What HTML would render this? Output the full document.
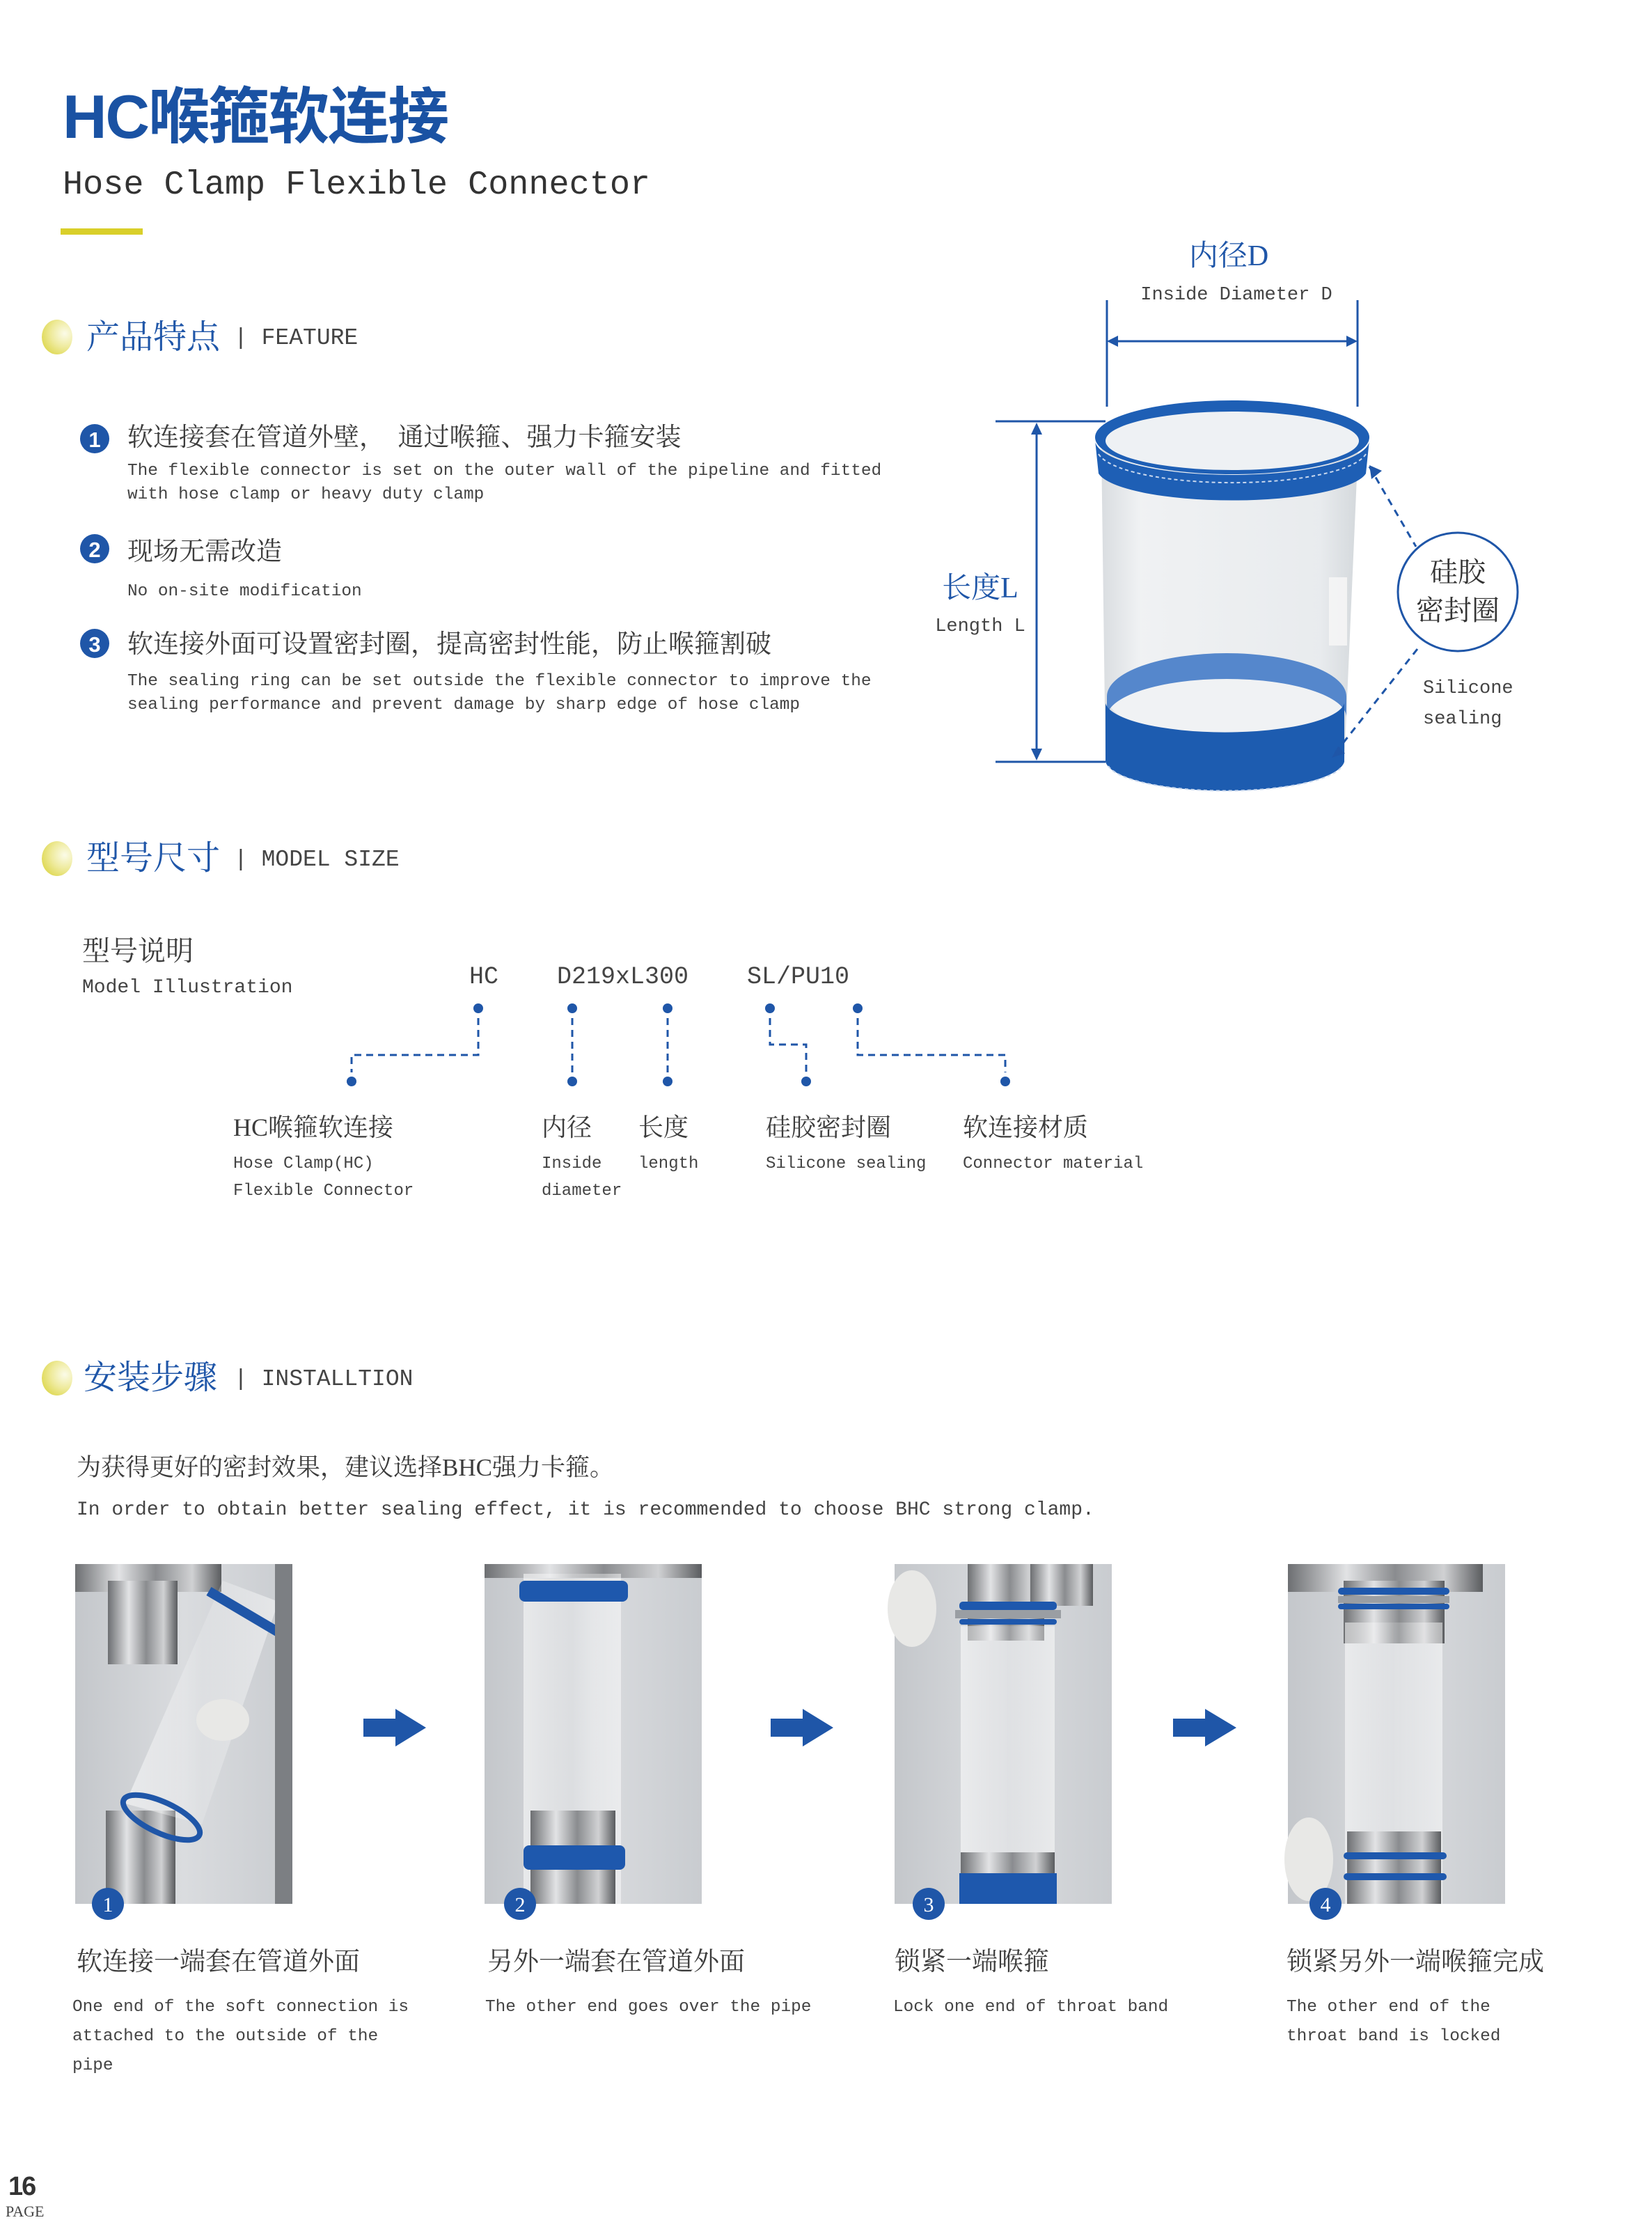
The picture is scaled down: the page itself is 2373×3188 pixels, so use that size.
<!DOCTYPE html>
<html><head><meta charset="utf-8">
<style>
html,body{margin:0;padding:0;background:#fff;}
body{width:2373px;height:3187px;position:relative;overflow:hidden;font-family:"Liberation Mono","Noto Serif CJK SC",monospace;color:#3c3c3c;}
.a{position:absolute;white-space:nowrap;}
.cj{font-family:"Liberation Serif","Noto Serif CJK SC",serif;}
.m{font-family:"Liberation Mono","Noto Serif CJK SC",monospace;}
.blue{color:#1f56a8;}
</style></head><body>

<!-- Title -->
<div class="a" style="left:90px;top:113px;font-family:'Liberation Sans','Noto Sans CJK SC',sans-serif;font-weight:bold;font-size:88px;line-height:110px;color:#1a52a3;letter-spacing:-2px;">HC喉箍软连接</div>
<div class="a m" style="left:90px;top:236px;font-size:48.5px;line-height:60px;color:#333;">Hose Clamp Flexible Connector</div>
<div class="a" style="left:87px;top:328px;width:118px;height:9px;background:#d9cf2a;"></div>

<!-- Feature header -->
<div class="a" style="left:60px;top:459px;width:44px;height:50px;border-radius:50%;background:radial-gradient(circle at 75% 40%,#fbfbe8 0%,#eeea9a 45%,#d6cf2c 100%);"></div>
<div class="a cj blue" style="left:124px;top:457px;font-size:48px;line-height:56px;">产品特点</div>
<div class="a m" style="left:336px;top:461px;font-size:33px;line-height:50px;color:#444;">| FEATURE</div>

<!-- Feature items -->
<svg class="a" style="left:0;top:0" width="400" height="1000">
<circle cx="136" cy="630" r="21" fill="#1f56a8"/><text x="136" y="642" font-family="Liberation Sans" font-weight="bold" font-size="31" fill="#fff" text-anchor="middle">1</text>
<circle cx="136" cy="788" r="21" fill="#1f56a8"/><text x="136" y="800" font-family="Liberation Sans" font-weight="bold" font-size="31" fill="#fff" text-anchor="middle">2</text>
<circle cx="136" cy="924" r="21" fill="#1f56a8"/><text x="136" y="936" font-family="Liberation Sans" font-weight="bold" font-size="31" fill="#fff" text-anchor="middle">3</text>
</svg>
<div class="a cj" style="left:183px;top:606px;font-size:37px;line-height:46px;">软连接套在管道外壁，&nbsp;&nbsp;通过喉箍、强力卡箍安装</div>
<div class="a m" style="left:183px;top:660px;font-size:24.4px;line-height:34px;color:#444;">The flexible connector is set on the outer wall of the pipeline and fitted<br>with hose clamp or heavy duty clamp</div>
<div class="a cj" style="left:183px;top:770px;font-size:37px;line-height:46px;">现场无需改造</div>
<div class="a m" style="left:183px;top:833px;font-size:24.4px;line-height:34px;color:#444;">No on-site modification</div>
<div class="a cj" style="left:183px;top:903px;font-size:37px;line-height:46px;">软连接外面可设置密封圈，提高密封性能，防止喉箍割破</div>
<div class="a m" style="left:183px;top:962px;font-size:24.4px;line-height:34px;color:#444;">The sealing ring can be set outside the flexible connector to improve the<br>sealing performance and prevent damage by sharp edge of hose clamp</div>

<!-- Right diagram -->
<div class="a cj blue" style="left:1665px;top:343px;width:200px;text-align:center;font-size:42px;line-height:50px;">内径D</div>
<div class="a m" style="left:1626px;top:406px;width:300px;text-align:center;font-size:27px;line-height:36px;color:#444;">Inside Diameter D</div>
<div class="a cj blue" style="left:1308px;top:819px;width:200px;text-align:center;font-size:42px;line-height:52px;">长度L</div>
<div class="a m" style="left:1308px;top:882px;width:200px;text-align:center;font-size:27px;line-height:36px;color:#444;">Length L</div>
<div class="a m" style="left:2044px;top:967px;font-size:27px;line-height:44px;color:#444;">Silicone<br>sealing</div>

<svg class="a" style="left:1400px;top:400px" width="800" height="760" viewBox="1400 400 800 760">
<defs>
<linearGradient id="body" x1="0" x2="1"><stop offset="0" stop-color="#d5d9dd"/><stop offset="0.15" stop-color="#eef0f2"/><stop offset="0.85" stop-color="#e6e9ec"/><stop offset="1" stop-color="#cfd4d8"/></linearGradient>
</defs>
<g stroke="#1f56a8" stroke-width="3" fill="#1f56a8">
<line x1="1590" y1="431" x2="1590" y2="584"/>
<line x1="1950" y1="431" x2="1950" y2="584"/>
<line x1="1600" y1="490" x2="1940" y2="490"/>
<line x1="1430" y1="605" x2="1588" y2="605"/>
<line x1="1430" y1="1094" x2="1588" y2="1094"/>
<line x1="1489" y1="615" x2="1489" y2="1085"/>
</g>
<polygon points="1590,490 1606,482 1606,498" fill="#1f56a8"/>
<polygon points="1950,490 1934,482 1934,498" fill="#1f56a8"/>
<polygon points="1489,607 1481,624 1497,624" fill="#1f56a8"/>
<polygon points="1489,1092 1481,1075 1497,1075" fill="#1f56a8"/>
<!-- cylinder body -->
<path d="M1582,640 L1588,1094 A172,45 0 0 0 1931,1094 L1951,640 Z" fill="url(#body)" opacity="0.9"/>
<ellipse cx="1762" cy="1000" rx="172" ry="62" fill="#f0f2f4"/>
<path d="M1590,1000 A172,62 0 0 1 1934,1000 L1934,1030 A172,55 0 0 0 1590,1030 Z" fill="#3a74c4" opacity="0.85"/>
<!-- bottom band -->
<path d="M1588,1010 A172,45 0 0 0 1931,1010 L1931,1094 A172,45 0 0 1 1588,1094 Z" fill="#1d5cb0"/>
<path d="M1592,1100 A170,42 0 0 0 1928,1100" fill="none" stroke="#c9d8ee" stroke-width="2" stroke-dasharray="5 4"/>
<!-- top band -->
<ellipse cx="1770" cy="628" rx="197" ry="53" fill="#1e5fb5"/>
<ellipse cx="1770" cy="633" rx="182" ry="42" fill="#eef1f4"/>
<path d="M1573,632 A197,50 0 0 0 1967,632 L1962,680 A194,45 0 0 1 1578,680 Z" fill="#1e5fb5"/>
<path d="M1578,652 A194,48 0 0 0 1962,652" fill="none" stroke="#c9d8ee" stroke-width="2" stroke-dasharray="5 4"/>
<!-- label on tube -->
<rect x="1909" y="829" width="26" height="98" fill="#f5f5f5" opacity="0.9"/>
<!-- dashed leaders -->
<line x1="1967" y1="670" x2="2034" y2="785" stroke="#1f56a8" stroke-width="3" stroke-dasharray="10 8"/>
<line x1="2036" y1="932" x2="1915" y2="1085" stroke="#1f56a8" stroke-width="3" stroke-dasharray="10 8"/>
<polygon points="1967,668 1970,688 1985,676" fill="#1f56a8"/>
<polygon points="1913,1088 1932,1082 1922,1072" fill="#1f56a8"/>
<ellipse cx="2094" cy="850" rx="86" ry="85" fill="#fff" stroke="#1f56a8" stroke-width="3"/>
<text x="2094" y="835" font-family="Noto Serif CJK SC" font-size="40" fill="#333" text-anchor="middle">硅胶</text>
<text x="2094" y="890" font-family="Noto Serif CJK SC" font-size="40" fill="#333" text-anchor="middle">密封圈</text>
</svg>

<!-- Model size -->
<div class="a" style="left:60px;top:1208px;width:44px;height:50px;border-radius:50%;background:radial-gradient(circle at 75% 40%,#fbfbe8 0%,#eeea9a 45%,#d6cf2c 100%);"></div>
<div class="a cj blue" style="left:124px;top:1205px;font-size:48px;line-height:56px;">型号尺寸</div>
<div class="a m" style="left:336px;top:1210px;font-size:33px;line-height:50px;color:#444;">| MODEL SIZE</div>

<div class="a cj" style="left:118px;top:1343px;font-size:40px;line-height:46px;">型号说明</div>
<div class="a m" style="left:118px;top:1402px;font-size:28px;line-height:34px;color:#444;">Model Illustration</div>
<div class="a m" style="left:674px;top:1382px;font-size:35px;line-height:42px;color:#444;">HC</div>
<div class="a m" style="left:800px;top:1382px;font-size:35px;line-height:42px;color:#444;">D219xL300</div>
<div class="a m" style="left:1073px;top:1382px;font-size:35px;line-height:42px;color:#444;">SL/PU10</div>

<svg class="a" style="left:0;top:1400px" width="1700" height="200" viewBox="0 1400 1700 200">
<g fill="#1f56a8">
<circle cx="687" cy="1448" r="7"/><circle cx="822" cy="1448" r="7"/><circle cx="959" cy="1448" r="7"/><circle cx="1106" cy="1448" r="7"/><circle cx="1232" cy="1448" r="7"/>
<circle cx="505" cy="1553" r="7"/><circle cx="822" cy="1553" r="7"/><circle cx="959" cy="1553" r="7"/><circle cx="1158" cy="1553" r="7"/><circle cx="1444" cy="1553" r="7"/>
</g>
<g stroke="#1f56a8" stroke-width="3" fill="none" stroke-dasharray="10 7">
<polyline points="687,1462 687,1515 505,1515 505,1540"/>
<line x1="822" y1="1462" x2="822" y2="1540"/>
<line x1="959" y1="1462" x2="959" y2="1540"/>
<polyline points="1106,1462 1106,1500 1158,1500 1158,1540"/>
<polyline points="1232,1462 1232,1515 1444,1515 1444,1540"/>
</g>
</svg>

<div class="a cj" style="left:335px;top:1598px;font-size:36px;line-height:42px;">HC喉箍软连接</div>
<div class="a m" style="left:335px;top:1652px;font-size:24px;line-height:39px;color:#444;">Hose Clamp(HC)<br>Flexible Connector</div>
<div class="a cj" style="left:778px;top:1598px;font-size:36px;line-height:42px;">内径</div>
<div class="a m" style="left:778px;top:1652px;font-size:24px;line-height:39px;color:#444;">Inside<br>diameter</div>
<div class="a cj" style="left:917px;top:1598px;font-size:36px;line-height:42px;">长度</div>
<div class="a m" style="left:917px;top:1652px;font-size:24px;line-height:39px;color:#444;">length</div>
<div class="a cj" style="left:1100px;top:1598px;font-size:36px;line-height:42px;">硅胶密封圈</div>
<div class="a m" style="left:1100px;top:1652px;font-size:24px;line-height:39px;color:#444;">Silicone sealing</div>
<div class="a cj" style="left:1383px;top:1598px;font-size:36px;line-height:42px;">软连接材质</div>
<div class="a m" style="left:1383px;top:1652px;font-size:24px;line-height:39px;color:#444;">Connector material</div>

<!-- Installation -->
<div class="a" style="left:60px;top:1954px;width:44px;height:50px;border-radius:50%;background:radial-gradient(circle at 75% 40%,#fbfbe8 0%,#eeea9a 45%,#d6cf2c 100%);"></div>
<div class="a cj blue" style="left:120px;top:1951px;font-size:48px;line-height:56px;">安装步骤</div>
<div class="a m" style="left:336px;top:1956px;font-size:33px;line-height:50px;color:#444;">| INSTALLTION</div>

<div class="a cj" style="left:110px;top:2087px;font-size:35px;line-height:42px;">为获得更好的密封效果，建议选择BHC强力卡箍。</div>
<div class="a m" style="left:110px;top:2152px;font-size:28px;line-height:34px;color:#444;">In order to obtain better sealing effect, it is recommended to choose BHC strong clamp.</div>

<!-- Photos -->
<svg class="a" style="left:0;top:2240px" width="2373" height="520" viewBox="0 2240 2373 520">
<defs>
<linearGradient id="bg" x1="0" x2="1"><stop offset="0" stop-color="#c4c7cb"/><stop offset="0.5" stop-color="#dadcdf"/><stop offset="1" stop-color="#c9ccd0"/></linearGradient>
<linearGradient id="metal" x1="0" x2="1"><stop offset="0" stop-color="#6d6f72"/><stop offset="0.3" stop-color="#e2e3e5"/><stop offset="0.55" stop-color="#8a8c8f"/><stop offset="0.8" stop-color="#d0d1d3"/><stop offset="1" stop-color="#5a5c5f"/></linearGradient>
<linearGradient id="tube" x1="0" x2="1"><stop offset="0" stop-color="#ffffff" stop-opacity="0.55"/><stop offset="0.5" stop-color="#ffffff" stop-opacity="0.15"/><stop offset="1" stop-color="#ffffff" stop-opacity="0.5"/></linearGradient>
</defs>
<!-- photo 1 -->
<rect x="108" y="2246" width="312" height="488" fill="url(#bg)"/>
<rect x="108" y="2246" width="210" height="40" fill="url(#metal)"/>
<rect x="155" y="2270" width="100" height="120" fill="url(#metal)"/>
<rect x="152" y="2600" width="100" height="134" fill="url(#metal)"/>
<polygon points="180,2590 290,2620 400,2300 320,2270" fill="url(#tube)"/>
<line x1="300" y1="2285" x2="410" y2="2350" stroke="#1f56a8" stroke-width="14"/>
<ellipse cx="232" cy="2610" rx="60" ry="22" fill="none" stroke="#1f56a8" stroke-width="8" transform="rotate(25 232 2610)"/>
<rect x="395" y="2246" width="25" height="488" fill="#7c7f83"/>
<ellipse cx="320" cy="2470" rx="38" ry="30" fill="#e8e8e6"/>
<!-- photo 2 -->
<rect x="696" y="2246" width="312" height="488" fill="url(#bg)"/>
<rect x="696" y="2246" width="312" height="20" fill="url(#metal)"/>
<rect x="752" y="2260" width="140" height="474" fill="url(#tube)"/>
<rect x="762" y="2600" width="122" height="134" fill="url(#metal)"/>
<rect x="746" y="2270" width="156" height="30" rx="8" fill="#1e58ad"/>
<rect x="752" y="2650" width="146" height="35" rx="8" fill="#1e58ad"/>
<!-- photo 3 -->
<rect x="1285" y="2246" width="312" height="488" fill="url(#bg)"/>
<rect x="1390" y="2246" width="110" height="110" fill="url(#metal)"/>
<rect x="1480" y="2246" width="90" height="60" fill="url(#metal)"/>
<rect x="1378" y="2300" width="140" height="12" rx="5" fill="#1e58ad"/>
<rect x="1372" y="2312" width="152" height="12" fill="#9a9ea3"/>
<rect x="1378" y="2325" width="140" height="8" rx="4" fill="#1e58ad"/>
<rect x="1380" y="2335" width="135" height="400" fill="url(#tube)"/>
<rect x="1380" y="2660" width="135" height="74" fill="url(#metal)"/>
<rect x="1378" y="2690" width="140" height="44" fill="#1e58ad"/>
<ellipse cx="1310" cy="2310" rx="35" ry="55" fill="#e8e8e6"/>
<!-- photo 4 -->
<rect x="1850" y="2246" width="312" height="488" fill="url(#bg)"/>
<rect x="1850" y="2246" width="280" height="40" fill="url(#metal)"/>
<rect x="1930" y="2270" width="145" height="90" fill="url(#metal)"/>
<rect x="1922" y="2280" width="160" height="10" rx="5" fill="#1e58ad"/>
<rect x="1922" y="2292" width="160" height="10" fill="#9a9ea3"/>
<rect x="1922" y="2303" width="160" height="8" rx="4" fill="#1e58ad"/>
<rect x="1932" y="2330" width="140" height="405" fill="url(#tube)"/>
<rect x="1935" y="2630" width="135" height="104" fill="url(#metal)"/>
<rect x="1930" y="2660" width="148" height="10" rx="5" fill="#1e58ad"/>
<rect x="1930" y="2690" width="148" height="10" rx="5" fill="#1e58ad"/>
<ellipse cx="1880" cy="2670" rx="35" ry="60" fill="#e8e8e6"/>
<!-- arrows -->
<g fill="#1f56a8">
<polygon points="522,2468 568,2468 568,2454 612,2481 568,2508 568,2494 522,2494"/>
<polygon points="1107,2468 1153,2468 1153,2454 1197,2481 1153,2508 1153,2494 1107,2494"/>
<polygon points="1685,2468 1731,2468 1731,2454 1776,2481 1731,2508 1731,2494 1685,2494"/>
</g>
<g fill="#1f56a8">
<circle cx="155" cy="2734" r="23"/><circle cx="747" cy="2734" r="23"/><circle cx="1334" cy="2734" r="23"/><circle cx="1904" cy="2734" r="23"/>
</g>
<g font-family="Liberation Serif" font-size="30" fill="#fff" text-anchor="middle">
<text x="155" y="2745">1</text><text x="747" y="2745">2</text><text x="1334" y="2745">3</text><text x="1904" y="2745">4</text>
</g>
</svg>

<!-- captions -->
<div class="a cj" style="left:110px;top:2796px;font-size:37px;line-height:44px;">软连接一端套在管道外面</div>
<div class="a m" style="left:104px;top:2862px;font-size:24.4px;line-height:42px;color:#444;">One end of the soft connection is<br>attached to the outside of the<br>pipe</div>
<div class="a cj" style="left:700px;top:2796px;font-size:37px;line-height:44px;">另外一端套在管道外面</div>
<div class="a m" style="left:697px;top:2862px;font-size:24.4px;line-height:42px;color:#444;">The other end goes over the pipe</div>
<div class="a cj" style="left:1285px;top:2796px;font-size:37px;line-height:44px;">锁紧一端喉箍</div>
<div class="a m" style="left:1283px;top:2862px;font-size:24.4px;line-height:42px;color:#444;">Lock one end of throat band</div>
<div class="a cj" style="left:1848px;top:2796px;font-size:37px;line-height:44px;">锁紧另外一端喉箍完成</div>
<div class="a m" style="left:1848px;top:2862px;font-size:24.4px;line-height:42px;color:#444;">The other end of the<br>throat band is locked</div>

<!-- page -->
<div class="a" style="left:12px;top:3118px;font-family:'Liberation Sans',sans-serif;font-weight:bold;font-size:38px;line-height:44px;color:#333;letter-spacing:-2px;">16</div>
<div class="a" style="left:8px;top:3164px;font-family:'Liberation Serif',serif;font-size:22px;line-height:24px;color:#444;">PAGE</div>
</body></html>
